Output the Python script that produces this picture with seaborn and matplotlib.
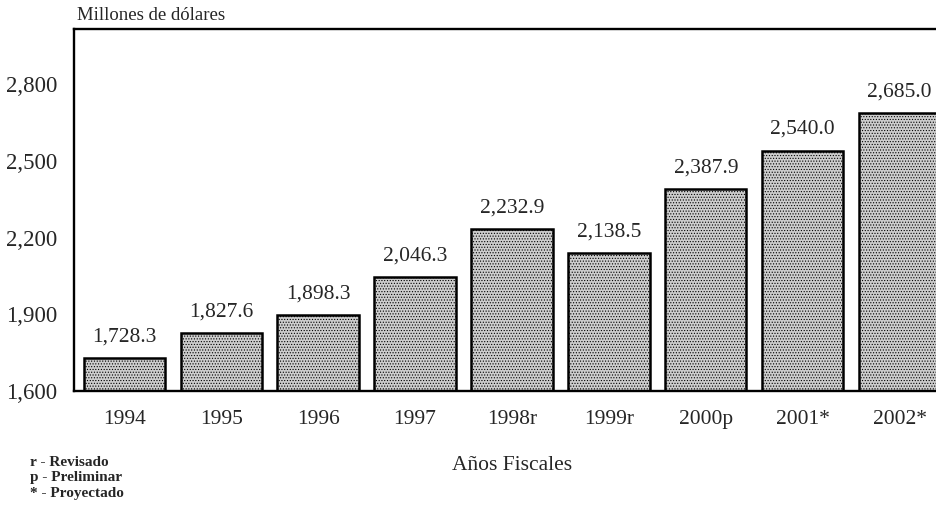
import seaborn as sns
import matplotlib.pyplot as plt
import pandas as pd

# Data
years = ["1994", "1995", "1996", "1997", "1998r", "1999r", "2000p", "2001*", "2002*"]
values = [1728.3, 1827.6, 1898.3, 2046.3, 2232.9, 2138.5, 2387.9, 2540.0, 2685.0]
yticks = [1600, 1900, 2200, 2500, 2800]

df = pd.DataFrame({"year": years, "value": values})

sns.set_theme(style="white")
plt.rcParams["font.family"] = ["Liberation Serif", "DejaVu Serif"]
plt.rcParams["hatch.color"] = "#999999"
plt.rcParams["hatch.linewidth"] = 0.5

fig = plt.figure(figsize=(9.36, 5.08), dpi=100)
# axes right edge runs past the figure (chart is cropped on the right)
ax = fig.add_axes([74 / 936, 1 - 391 / 508, (948 - 74) / 936, (391 - 29) / 508])

sns.barplot(data=df, x="year", y="value", ax=ax, color="#cdcdcd",
            width=0.84, edgecolor="black", linewidth=1.8, saturation=1)
for p in ax.patches:
    p.set_hatch("......")
    p.set_edgecolor("black")

for i, v in enumerate(values):
    ax.text(i, v + 45, f"{v:,.1f}", ha="center", va="bottom", fontsize=15.5)

ax.set_ylim(1600, 3015)
ax.set_xlim(-0.52, 8.5)
ax.set_yticks(yticks)
ax.set_yticklabels([f"{t:,}" for t in yticks], fontsize=16.5)
ax.tick_params(axis="x", labelsize=15.5, pad=14, length=0)
ax.tick_params(axis="y", length=0, pad=12)
ax.set_xlabel("")
ax.set_ylabel("")
for s in ax.spines.values():
    s.set_color("black")
    s.set_linewidth(1.7)

fig.text(77 / 936, 1 - 16 / 508, "Millones de dólares", fontsize=13.5, va="center")
fig.text(512 / 936, 1 - 466 / 508, "Años Fiscales", fontsize=15.5, ha="center", va="center")
notes = ["r - Revisado", "p - Preliminar", "* - Proyectado"]
for k, n in enumerate(notes):
    fig.text(30 / 936, 1 - (462 + 16 * k) / 508, n, fontsize=11, fontweight="bold", va="center")

fig.savefig("out.png", dpi=100)
